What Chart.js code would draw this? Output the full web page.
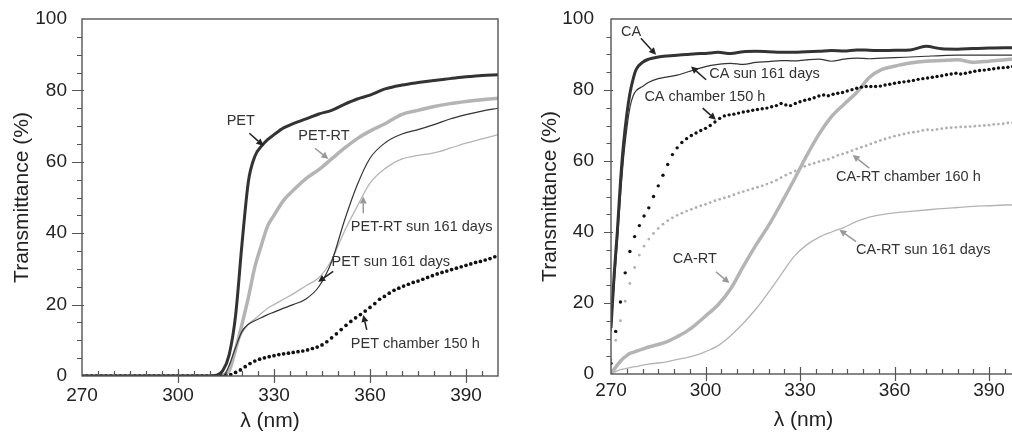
<!DOCTYPE html>
<html lang="en">
<head>
  <meta charset="UTF-8">
  <title>Transmittance spectra</title>
  <script src="https://cdn.jsdelivr.net/npm/chart.js"></script>
  <style>
    body {
      margin: 0;
      background: #fff;
      width: 1012px;
      height: 432px;
      overflow: hidden;
      position: relative;
    }
    canvas {
      position: absolute;
      top: 0;
    }
    #petChart { left: 0; }
    #caChart { left: 506px; }
  </style>
</head>
<body>
  <canvas id="petChart" width="506" height="432"></canvas>
  <canvas id="caChart" width="520" height="432"></canvas>

  <script>
    // ---- left panel: PET ----
    const petX = [270, 300, 310, 312, 314, 316, 318, 320, 322, 324, 326, 328, 330, 333, 336, 340,
                  344, 348, 352, 356, 360, 365, 370, 375, 380, 385, 390, 395, 400];
    const pet = [0, 0, 0, 0.2, 1.5, 6, 17, 37, 54.5, 61.5, 64.3, 66.2, 67.6, 69.5, 70.7, 72,
                 73.4, 74.4, 76.1, 77.6, 78.7, 80.5, 81.5, 82.2, 82.8, 83.3, 83.8, 84.2, 84.4];
    const petRT = [0, 0, 0, 0, 0.3, 1.5, 7.5, 14.5, 22, 30.5, 36.5, 42, 45, 49.2, 52, 55.3,
                   57.8, 60.8, 63.8, 66.5, 68.6, 70.8, 73.3, 74.4, 75.5, 76.3, 76.9, 77.4, 77.8];
    const petSun = [0, 0, 0, 0, 0, 3, 8, 12.5, 14.5, 15.5, 16.3, 17.2, 17.9, 19, 20, 21.6,
                    25, 32, 43.5, 53.5, 61, 65.5, 67.8, 69, 70.4, 72, 73.2, 74.2, 75];
    const petRTSun = [0, 0, 0, 0, 0, 2.5, 7.5, 12, 14.5, 16, 17.5, 19, 20, 21.5, 23, 25.3,
                      27.5, 32.5, 40.5, 47.5, 54, 58.3, 60.8, 61.8, 62.5, 63.8, 65.2, 66.4, 67.6];

    // sampling of the dotted (chamber) curves
    const dotX = [270, 271.5, 273, 274.5, 276, 277.5, 279, 280.5, 282, 283.5,
                  285, 286.5, 288, 289.5, 291, 292.5, 294, 295.5, 297, 298.5,
                  300, 301.5, 303, 304.5, 306, 307.5, 309, 310.5, 312, 313.5,
                  315, 316.5, 318, 319.5, 321, 322.5, 324, 325.5, 327, 328.5,
                  330, 331.5, 333, 334.5, 336, 337.5, 339, 340.5, 342, 343.5,
                  345, 346.5, 348, 349.5, 351, 352.5, 354, 355.5, 357, 358.5,
                  360, 361.5, 363, 364.5, 366, 367.5, 369, 370.5, 372, 373.5,
                  375, 376.5, 378, 379.5, 381, 382.5, 384, 385.5, 387, 388.5,
                  390, 391.5, 393, 394.5, 396, 397.5, 399];
    const petChamber = [0, 0, 0, 0, 0, 0, 0, 0, 0, 0,
                        0, 0, 0, 0, 0, 0, 0, 0, 0, 0,
                        0, 0, 0, 0, 0, 0, 0, 0, 0, 0,
                        0.1, 0.4, 1.0, 1.7, 2.6, 3.5, 4.2, 4.7, 5.1, 5.4,
                        5.7, 6.0, 6.2, 6.4, 6.6, 6.8, 7.0, 7.3, 7.7, 8.1,
                        8.7, 9.6, 10.7, 11.8, 13.0, 14.2, 15.3, 16.3, 17.2, 18.2,
                        19.2, 20.3, 21.5, 22.3, 23.2, 24.0, 24.6, 25.2, 25.7, 26.2,
                        26.6, 27.1, 27.6, 28.1, 28.6, 29.0, 29.4, 29.8, 30.2, 30.6,
                        31.0, 31.4, 31.8, 32.1, 32.5, 32.9, 33.4];

    // ---- right panel: CA ----
    const caX = [270, 271, 272, 273, 274, 275, 276, 277, 278, 280, 282, 285, 288, 291, 294, 297, 300,
                 304, 308, 312, 316, 320, 324, 328, 332, 336, 340, 344, 348, 352, 356, 360,
                 365, 370, 375, 380, 385, 390, 395, 400];
    const ca = [13, 28, 40, 54, 65, 73, 79, 83, 85.8, 87.8, 88.7, 89.3, 89.6, 89.8, 90, 90.2, 90.3,
                90.6, 90.3, 90.8, 90.9, 90.8, 90.6, 90.6, 90.8, 90.9, 91.1, 91, 91.3, 91.2, 91.1, 91.2,
                91.3, 92.3, 91.6, 91.5, 91.7, 91.8, 91.9, 91.9];
    const caSun = [12, 25, 37, 50, 61, 69, 75, 78.3, 79.8, 81, 82.2, 83.2, 83.7, 84.2, 85, 85.8, 86.6,
                   87.2, 87.5, 87.2, 87.8, 88, 88.3, 88.2, 88.5, 88.7, 88.1, 88.7, 89, 88.8, 89, 89.1,
                   89.3, 89.5, 89.7, 89.8, 89.8, 89.8, 89.8, 89.8];
    const caRT = [0, 1.3, 2.5, 3.6, 4.5, 5.2, 5.8, 6.1, 6.4, 7, 7.6, 8.3, 9.2, 10.5, 12, 14, 16.3,
                  19.5, 24, 30.3, 36.3, 41.8, 48, 54.5, 61.3, 67.5, 72.5, 76, 79.3, 83.5, 85.8, 86.7,
                  87.6, 88.1, 88.3, 88.5, 87.8, 88.1, 88.5, 88.9];
    const caRTSun = [0, 0.5, 0.9, 1.2, 1.4, 1.6, 1.8, 2, 2.1, 2.5, 2.8, 3.1, 3.5, 4.1, 4.6, 5.3, 6.3,
                     8, 10.8, 14.3, 18.3, 23, 28, 33, 36.3, 38.5, 40, 41.3, 43, 44.2, 44.9, 45.4,
                     45.8, 46.2, 46.6, 46.9, 47.2, 47.4, 47.6, 47.7];
    const caChamber = [3, 12, 20.3, 28.5, 34.5, 38.7, 41.8, 44.5, 46.8, 50,
                       53, 56, 59, 61.8, 63.7, 65.2, 66.3, 67.2, 67.9, 68.6,
                       69.2, 70, 71, 72, 72.7, 73, 73.2, 73.5, 73.8, 74,
                       74.3, 74.5, 74.7, 74.9, 75.3, 75.6, 76.2, 75.8, 75.6, 76.2,
                       76.7, 77.1, 77.4, 77.8, 78.3, 78.6, 78.4, 78.8, 79.1, 79.3,
                       79.7, 80.1, 80.5, 80.8, 81, 81, 81, 81.1, 81.4, 81.6,
                       81.9, 82.1, 82.3, 82.5, 82.7, 83, 83.2, 83.4, 83.6, 83.8,
                       84, 84.3, 84.5, 84.7, 84.5, 84.7, 85, 85.3, 85.5, 85.6,
                       85.8, 86, 86.2, 86.3, 86.4, 86.6, 86.7];
    const caRTChamber = [4, 9.5, 15, 20.5, 25.5, 30, 33.5, 36, 38, 39.6,
                         41, 42.2, 43.2, 44, 44.7, 45.3, 45.9, 46.4, 46.9, 47.4,
                         47.8, 48.3, 48.8, 49.2, 49.6, 50, 50.5, 51, 51.4, 51.8,
                         52.2, 52.6, 53, 53.5, 54, 54.6, 55.3, 56, 56.6, 57.2,
                         57.8, 58.5, 59, 59.4, 59.8, 60.2, 60.5, 61, 61.6, 62,
                         62.4, 62.9, 63.4, 63.9, 64.3, 64.8, 65.3, 65.8, 66.2, 66.6,
                         67, 67.3, 67.6, 67.9, 68.1, 68.3, 68.6, 68.8, 68.7, 68.9,
                         69.1, 69.3, 69.4, 69.5, 69.6, 69.6, 69.7, 69.8, 69.9, 70,
                         70.1, 70.3, 70.4, 70.5, 70.7, 70.8, 70.9];

    // axis ticks
    const xMin = 270, xMax = 400, xMinorStep = 5, xLabelStep = 30;
    const yMin = 0, yMax = 100, yMinorStep = 5, yLabelStep = 20;

    // curve labels, in data units
    const petNotes = [
      { text: "PET", x: 315.2, y: 71.5, from: [322.3, 68], to: [326.7, 64.5], dark: true },
      { text: "PET-RT", x: 337.6, y: 67.1, from: [342.8, 63.8], to: [347, 60.8], dark: false },
      { text: "PET-RT sun 161 days", x: 354, y: 41.6, from: [357.9, 45.6], to: [357.9, 50.3], dark: false },
      { text: "PET sun 161 days", x: 348, y: 31.8, from: [348.5, 29.3], to: [343.8, 26.4], dark: true },
      { text: "PET chamber 150 h", x: 354, y: 9, from: [359, 12.9], to: [357.9, 17.1], dark: true }
    ];
    const caNotes = [
      { text: "CA", x: 273.2, y: 96.4, from: [279.5, 94.6], to: [284.3, 89.9], dark: true },
      { text: "CA sun 161 days", x: 301.2, y: 84.6, from: [300.2, 82.9], to: [295.4, 86.6], dark: true },
      { text: "CA chamber 150 h", x: 280.6, y: 78, from: [299.1, 74.9], to: [303.3, 71.6], dark: true },
      { text: "CA-RT chamber 160 h", x: 341.4, y: 55.4, from: [352, 58], to: [346.7, 61.7], dark: false },
      { text: "CA-RT", x: 289.6, y: 32.4, from: [303.3, 28.8], to: [307.6, 25.6], dark: false },
      { text: "CA-RT sun 161 days", x: 347.8, y: 34.8, from: [347.8, 37.3], to: [342.5, 40.6], dark: false }
    ];

    const DARK = "#333333";
    const GREY = "#b4b4b4";
    const FONT = "'Liberation Sans', Arial, sans-serif";

    function pts(xs, ys) {
      return xs.map((x, i) => ({ x: x, y: ys[i] }));
    }

    function lineSet(xs, ys, color, width) {
      return {
        data: pts(xs, ys),
        borderColor: color,
        borderWidth: width,
        pointRadius: 0,
        cubicInterpolationMode: "monotone",
        fill: false
      };
    }

    function dotSet(xs, ys, color, r) {
      return {
        data: pts(xs, ys),
        showLine: false,
        pointRadius: r,
        pointBorderWidth: 0,
        pointBackgroundColor: color,
        pointHoverRadius: r
      };
    }

    // box, tick marks, x title and curve labels
    function framePlugin(notes, cfg) {
      const tk = cfg.ticks;
      return {
        id: "frame",
        afterDraw(chart) {
          const { ctx, chartArea: a, scales: { x, y } } = chart;
          ctx.save();
          ctx.strokeStyle = "#555";
          ctx.lineWidth = 1.4;
          ctx.strokeRect(a.left, a.top, a.right - a.left, a.bottom - a.top);

          ctx.lineWidth = 1.2;
          ctx.beginPath();
          for (let v = xMin + xMinorStep; v < xMax; v += xMinorStep) {
            const px = Math.round(x.getPixelForValue(v)) + 0.5;
            if ((v - xMin) % xLabelStep === 0) {
              ctx.moveTo(px, a.bottom - tk.xMajorIn);
              ctx.lineTo(px, a.bottom + tk.xMajorOut);
            } else {
              ctx.moveTo(px, a.bottom - tk.xMinorIn);
              ctx.lineTo(px, a.bottom);
            }
          }
          for (let v = yMin + yMinorStep; v < yMax; v += yMinorStep) {
            const py = Math.round(y.getPixelForValue(v)) + 0.5;
            if (v % yLabelStep === 0) {
              ctx.moveTo(a.left - tk.yMajorOut, py);
              ctx.lineTo(a.left + 2, py);
            } else {
              ctx.moveTo(a.left - tk.yMinorOut, py);
              ctx.lineTo(a.left, py);
            }
          }
          ctx.stroke();

          // x axis title (sits a bit left of the plot centre in the original)
          ctx.fillStyle = "#222";
          ctx.font = "21px " + FONT;
          ctx.textAlign = "center";
          ctx.textBaseline = "middle";
          ctx.fillText("λ (nm)", a.left + cfg.xTitleX, cfg.xTitleY);

          // labels with arrows
          ctx.font = "14.5px " + FONT;
          ctx.textBaseline = "middle";
          ctx.textAlign = "left";
          notes.forEach(n => {
            ctx.fillStyle = "#333";
            ctx.fillText(n.text, x.getPixelForValue(n.x), y.getPixelForValue(n.y));
            const x1 = x.getPixelForValue(n.from[0]), y1 = y.getPixelForValue(n.from[1]);
            const x2 = x.getPixelForValue(n.to[0]), y2 = y.getPixelForValue(n.to[1]);
            const col = n.dark ? "#222" : "#999";
            const ang = Math.atan2(y2 - y1, x2 - x1);
            const hl = 7, hw = 3.5;
            const bx = x2 - hl * Math.cos(ang), by = y2 - hl * Math.sin(ang);
            ctx.strokeStyle = col;
            ctx.fillStyle = col;
            ctx.lineWidth = 1.5;
            ctx.beginPath();
            ctx.moveTo(x1, y1);
            ctx.lineTo(bx, by);
            ctx.stroke();
            ctx.beginPath();
            ctx.moveTo(x2, y2);
            ctx.lineTo(bx + hw * Math.sin(ang), by - hw * Math.cos(ang));
            ctx.lineTo(bx - hw * Math.sin(ang), by + hw * Math.cos(ang));
            ctx.closePath();
            ctx.fill();
          });
          ctx.restore();
        }
      };
    }

    function makeChart(id, datasets, notes, cfg) {
      new Chart(document.getElementById(id).getContext("2d"), {
        type: "line",
        data: { datasets: datasets },
        plugins: [framePlugin(notes, cfg)],
        options: {
          responsive: false,
          animation: false,
          devicePixelRatio: 1,
          layout: { padding: { top: cfg.padTop, right: cfg.padRight, left: 0, bottom: 0 } },
          plugins: {
            legend: { display: false },
            tooltip: { enabled: false }
          },
          scales: {
            x: {
              type: "linear",
              min: xMin,
              max: xMax,
              grid: { display: false, drawTicks: false, tickLength: 0 },
              border: { display: false },
              ticks: {
                stepSize: xMinorStep,
                autoSkip: false,
                maxRotation: 0,
                padding: cfg.xPad,
                color: "#222",
                font: { family: FONT, size: 19 },
                callback: v => ((v - xMin) % xLabelStep === 0 ? String(v) : "")
              },
              afterFit: s => {
                s.height = cfg.xHeight;
                s.paddingLeft = 0;
                s.paddingRight = 0;
              }
            },
            y: {
              min: yMin,
              max: yMax,
              grid: { display: false, drawTicks: false, tickLength: 0 },
              border: { display: false },
              ticks: {
                stepSize: yMinorStep,
                autoSkip: false,
                padding: cfg.yPad,
                color: "#222",
                font: { family: FONT, size: 19 },
                callback: v => (v % yLabelStep === 0 ? String(v) : "")
              },
              title: {
                display: true,
                text: "Transmittance (%)",
                color: "#222",
                font: { family: FONT, size: 21, lineHeight: 1 },
                padding: { top: cfg.yTitlePad, bottom: 0 }
              },
              afterFit: s => {
                s.width = cfg.yWidth;
                s.paddingTop = 0;
                s.paddingBottom = 0;
              }
            }
          }
        }
      });
    }

    makeChart("petChart", [
      lineSet(petX, pet, DARK, 3),
      lineSet(petX, petSun, DARK, 1.2),
      dotSet(dotX, petChamber, "#111", 1.85),
      lineSet(petX, petRTSun, GREY, 1.3),
      lineSet(petX, petRT, GREY, 3.5)
    ], petNotes, {
      padTop: 19, padRight: 8, yWidth: 82, xHeight: 56, xPad: 8, yPad: 15, yTitlePad: 12,
      xTitleX: 188, xTitleY: 421,
      ticks: { xMajorIn: 7, xMajorOut: 7, xMinorIn: 5, yMajorOut: 10, yMinorOut: 5 }
    });

    makeChart("caChart", [
      lineSet(caX, ca, DARK, 3),
      lineSet(caX, caSun, DARK, 1.2),
      dotSet(dotX, caChamber, "#111", 1.7),
      lineSet(caX, caRT, GREY, 3.5),
      dotSet(dotX, caRTChamber, "#b0b0b0", 1.4),
      lineSet(caX, caRTSun, GREY, 1.3)
    ], caNotes, {
      padTop: 19, padRight: 5.5, yWidth: 105, xHeight: 58, xPad: 5, yPad: 17, yTitlePad: 33.5,
      xTitleX: 192.5, xTitleY: 420,
      ticks: { xMajorIn: 7, xMajorOut: 7, xMinorIn: 5, yMajorOut: 7, yMinorOut: 4.5 }
    });
  </script>
</body>
</html>
